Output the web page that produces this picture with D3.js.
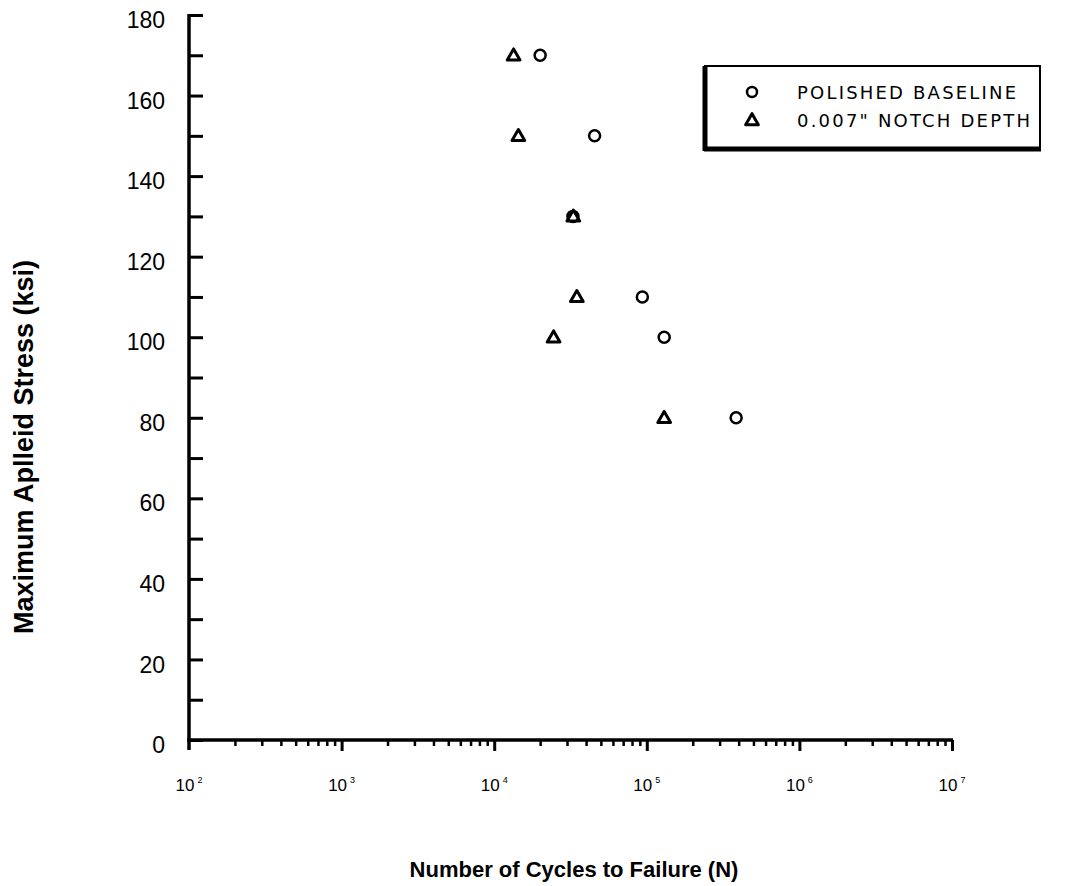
<!DOCTYPE html>
<html>
<head>
<meta charset="utf-8">
<script src="https://cdn.jsdelivr.net/npm/d3@7"></script>
<style>
  body { margin: 0; background: #fff; }
  text { font-family: "Liberation Sans", Arial, sans-serif; fill: #000; }
</style>
</head>
<body>
<div id="chart"></div>
<script>
// data
var stressLevels = [170, 150, 130, 110, 100, 80];
var polishedCycles = [20000, 45500, 32800, 93500, 130000, 385000];
var notchCycles = [13400, 14400, 33000, 34800, 24500, 130000];
var seriesNames = ["POLISHED BASELINE", "0.007\" NOTCH DEPTH"];
var yTickLabels = [0, 20, 40, 60, 80, 100, 120, 140, 160, 180];
var xDecades = [2, 3, 4, 5, 6, 7];

var svgWidth = 1070;
var svgHeight = 886;

var svg = d3.select("#chart")
  .append("svg")
  .attr("width", svgWidth)
  .attr("height", svgHeight);

var x = d3.scaleLog().domain([1e2, 1e7]).range([189, 952]);
var y = d3.scaleLinear().domain([0, 180]).range([740, 15]);

// y axis : ticks every 10 pointing inward
var yMinor = d3.range(0, 181, 10);
svg.append("g")
  .attr("transform", `translate(${x(1e2)},0)`)
  .call(d3.axisRight(y).tickValues(yMinor).tickSize(14).tickFormat(""))
  .call(g => g.select(".domain").remove())
  .selectAll("line")
  .attr("stroke", "#000")
  .attr("stroke-width", 3);

svg.append("line")
  .attr("x1", x(1e2)).attr("x2", x(1e2))
  .attr("y1", y(180) - 1).attr("y2", y(0) + 10)
  .attr("stroke", "#000").attr("stroke-width", 3.5);

svg.append("g")
  .attr("transform", `translate(${x(1e2)},0)`)
  .call(d3.axisLeft(y).tickValues(yTickLabels).tickSize(0).tickPadding(24))
  .call(g => g.select(".domain").remove())
  .selectAll("text")
  .attr("font-size", "23px")
  .attr("dy", "0.55em")
  .style("font-family", "Liberation Sans, Arial, sans-serif");

// x axis : log ticks pointing down
var xMinor = [];
xDecades.slice(0, -1).forEach(function(p) {
  for (var m = 2; m <= 9; m++) xMinor.push(m * Math.pow(10, p));
});
var xMajor = xDecades.map(p => Math.pow(10, p));

svg.append("g")
  .attr("transform", `translate(0,${y(0)})`)
  .call(d3.axisBottom(x).tickValues(xMinor).tickSize(6).tickFormat(""))
  .call(g => g.select(".domain").remove())
  .selectAll("line")
  .attr("stroke", "#000")
  .attr("stroke-width", 2.5);

svg.append("g")
  .attr("transform", `translate(0,${y(0)})`)
  .call(d3.axisBottom(x).tickValues(xMajor.slice(1)).tickSize(11).tickFormat(""))
  .call(g => g.select(".domain").remove())
  .selectAll("line")
  .attr("stroke", "#000")
  .attr("stroke-width", 3);

svg.append("line")
  .attr("x1", x(1e2) - 2).attr("x2", x(1e7) + 1)
  .attr("y1", y(0)).attr("y2", y(0))
  .attr("stroke", "#000").attr("stroke-width", 3.5);

var xLabels = svg.append("g").selectAll("text")
  .data(xDecades)
  .enter()
  .append("text")
  .attr("x", d => x(Math.pow(10, d)))
  .attr("y", 791)
  .attr("text-anchor", "middle")
  .attr("font-size", "17px");
xLabels.append("tspan").text("10");
xLabels.append("tspan")
  .attr("dx", 3)
  .attr("dy", -8)
  .attr("font-size", "9px")
  .text(d => d);

// axis titles
svg.append("text")
  .attr("transform", "rotate(-90)")
  .attr("x", -447)
  .attr("y", 33)
  .attr("text-anchor", "middle")
  .attr("font-size", "27px")
  .attr("font-weight", "bold")
  .text("Maximum Aplleid Stress (ksi)");

svg.append("text")
  .attr("x", 574)
  .attr("y", 877)
  .attr("text-anchor", "middle")
  .attr("font-size", "22px")
  .attr("font-weight", "bold")
  .text("Number of Cycles to Failure (N)");

// markers
var tri = d3.symbol().type(d3.symbolTriangle).size(70);

svg.append("g").selectAll("circle")
  .data(stressLevels)
  .enter()
  .append("circle")
  .attr("cx", (d, i) => x(polishedCycles[i]))
  .attr("cy", d => y(d))
  .attr("r", 5.5)
  .attr("fill", "none")
  .attr("stroke", "#000")
  .attr("stroke-width", 2.5);

svg.append("g").selectAll("path")
  .data(stressLevels)
  .enter()
  .append("path")
  .attr("d", tri)
  .attr("transform", (d, i) => `translate(${x(notchCycles[i])},${y(d) + 1})`)
  .attr("fill", "none")
  .attr("stroke", "#000")
  .attr("stroke-width", 3)
  .attr("stroke-linejoin", "round");

// legend
var legend = svg.append("g");
legend.append("rect")
  .attr("x", 705).attr("y", 66)
  .attr("width", 335).attr("height", 82)
  .attr("fill", "#fff")
  .attr("stroke", "#000")
  .attr("stroke-width", 2);
legend.append("line")
  .attr("x1", 704).attr("x2", 1041)
  .attr("y1", 149).attr("y2", 149)
  .attr("stroke", "#000").attr("stroke-width", 5);
legend.append("line")
  .attr("x1", 705).attr("x2", 705)
  .attr("y1", 66).attr("y2", 151)
  .attr("stroke", "#000").attr("stroke-width", 5);

legend.append("circle")
  .attr("cx", 752).attr("cy", 92).attr("r", 5)
  .attr("fill", "none").attr("stroke", "#000").attr("stroke-width", 2.5);
legend.append("path")
  .attr("d", tri)
  .attr("transform", "translate(752,121)")
  .attr("fill", "none").attr("stroke", "#000").attr("stroke-width", 3)
  .attr("stroke-linejoin", "round");

legend.selectAll("text.leg")
  .data(seriesNames)
  .enter()
  .append("text")
  .attr("class", "leg")
  .attr("x", 797)
  .attr("y", (d, i) => 99 + i * 28)
  .attr("font-size", "18px")
  .attr("letter-spacing", "2.2px")
  .style("font-family", "DejaVu Sans, sans-serif")
  .text(d => d);
</script>
</body>
</html>
